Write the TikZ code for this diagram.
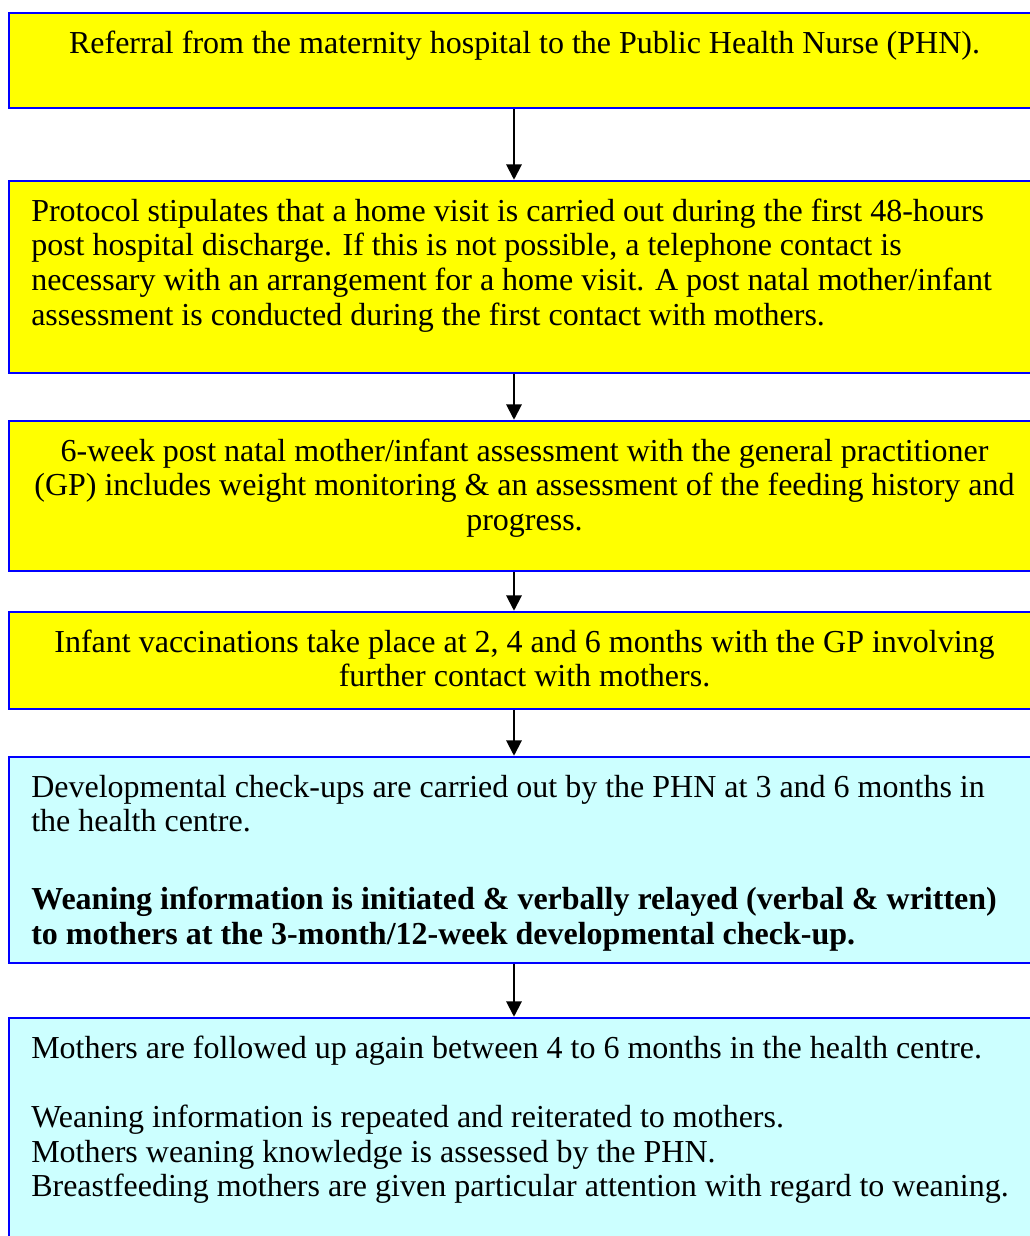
\documentclass[tikz,border=0pt]{standalone}
\usepackage{fontspec}
\setmainfont{Liberation Serif}
\usetikzlibrary{arrows.meta,fit}
\definecolor{stepyellow}{HTML}{FFFF00}
\definecolor{stepcyan}{HTML}{CCFFFF}
\definecolor{stepblue}{HTML}{0000FF}
\begin{document}
\begin{tikzpicture}[x=0.75pt,y=-0.75pt,
  stagebox/.style={draw=stepblue,line width=1.9pt,inner sep=0pt},
  leftbody/.style={anchor=base west,inner sep=0pt,font=\fontsize{24}{26}\selectfont},
  midbody/.style={anchor=base,inner sep=0pt,font=\fontsize{24}{26}\selectfont},
  flow/.style={-{Triangle[length=11.5pt,width=11.5pt]},line width=1.5pt,black}]
\useasboundingbox (0,0) rectangle (1030,1236);
\clip (0,0) rectangle (1030,1236);

% stage boxes (they run past the right and bottom edges of the page)
\node[stagebox,fill=stepyellow,fit={(9,13) (1040,108)}] (b1) {};
\node[stagebox,fill=stepyellow,fit={(9,181) (1040,373)}] (b2) {};
\node[stagebox,fill=stepyellow,fit={(9,421) (1040,571)}] (b3) {};
\node[stagebox,fill=stepyellow,fit={(9,612) (1040,709)}] (b4) {};
\node[stagebox,fill=stepcyan,fit={(9,757) (1040,963)}] (b5) {};
\node[stagebox,fill=stepcyan,fit={(9,1018) (1040,1260)}] (b6) {};

% texts
\node[midbody] (t1) at (524.5,53) {\parbox[t]{750pt}{\centering
  Referral from the maternity hospital to the Public Health Nurse (PHN).}};
\node[leftbody] (t2) at (31,221) {\parbox[t]{750pt}{\raggedright
  Protocol stipulates that a home visit is carried out during the first 48-hours\\
  post hospital discharge. If this is not possible, a telephone contact is\\
  necessary with an arrangement for a home visit. A post natal mother/infant\\
  assessment is conducted during the first contact with mothers.}};
\node[midbody] (t3) at (524.5,461) {\parbox[t]{750pt}{\centering
  6-week post natal mother/infant assessment with the general practitioner\\
  (GP) includes weight monitoring \& an assessment of the feeding history and\\
  progress.}};
\node[midbody] (t4) at (524.5,652) {\parbox[t]{750pt}{\centering
  Infant vaccinations take place at 2, 4 and 6 months with the GP involving\\
  further contact with mothers.}};
\node[leftbody] (t5) at (31,797) {\parbox[t]{750pt}{\raggedright
  Developmental check-ups are carried out by the PHN at 3 and 6 months in\\
  the health centre.\\[32.5pt]
  \textbf{Weaning information is initiated \& verbally relayed (verbal \& written)}\\
  \textbf{to mothers at the 3-month/12-week developmental check-up.}}};
\node[leftbody] (t6) at (31,1058) {\parbox[t]{750pt}{\raggedright
  Mothers are followed up again between 4 to 6 months in the health centre.\\[26pt]
  Weaning information is repeated and reiterated to mothers.\\
  Mothers weaning knowledge is assessed by the PHN.\\
  Breastfeeding mothers are given particular attention with regard to weaning.}};

% connectors
\coordinate (ax) at (514,0);
\draw[flow] (b1.south -| ax) -- (b2.north -| ax);
\draw[flow] (b2.south -| ax) -- (b3.north -| ax);
\draw[flow] (b3.south -| ax) -- (b4.north -| ax);
\draw[flow] (b4.south -| ax) -- (b5.north -| ax);
\draw[flow] (b5.south -| ax) -- (b6.north -| ax);
\end{tikzpicture}
\end{document}
